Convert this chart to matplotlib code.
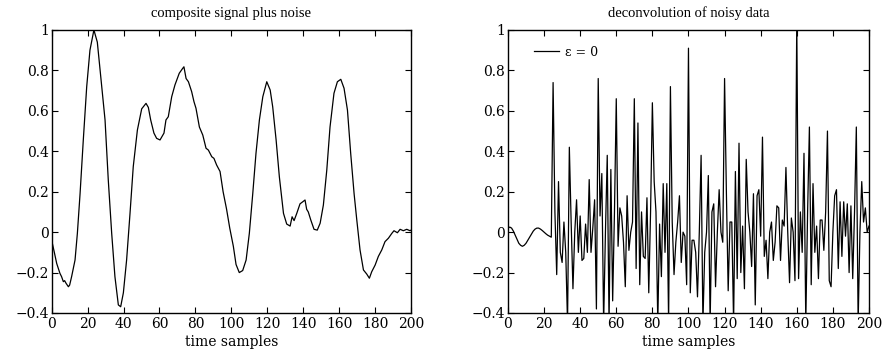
import matplotlib
matplotlib.use("Agg")
import matplotlib.pyplot as plt

plt.rcParams["font.family"] = ["DejaVu Serif"]
plt.rcParams["axes.unicode_minus"] = True

# composite signal plus noise (sample index, value)
sig_t = [0, 1.4, 2.8, 4.6, 5.5, 6.5, 7.2, 8, 9.3, 10, 11.1, 13, 14.3, 15.8, 17.6, 19.5,
         21.3, 23.5, 25.4, 27.3, 29.7, 31.5, 33.4, 35.2, 37.1, 38.4, 39.9, 41.7,
         43.6, 45.4, 47.7, 50.1, 52.5, 53.8, 55.1, 56.9, 58.4, 60.3, 62.5, 63.6,
         64.9, 66.8, 68.6, 71, 72.9, 73.6, 74.8, 76.1, 77.9, 79.2, 80.3, 82.2,
         84.1, 85.9, 87.2, 89.1, 90.3, 91.8, 93.7, 95.4, 97.3, 99.1, 101.1, 102.6,
         104.4, 106.3, 108.2, 110, 111.9, 113.7, 115.6, 117.5, 119.7, 121.6, 123,
         124.9, 126.7, 129, 130.8, 132.7, 133.8, 134.9, 136.4, 138.2, 139.7, 141,
         141.9, 142.8, 144.2, 146, 147.8, 149.4, 151.2, 153.1, 154.9, 157.1, 159,
         160.9, 162.7, 164.6, 166.4, 168.3, 169.8, 171.6, 173.5, 175.3, 176.8,
         178.1, 180, 181.8, 183.7, 185.5, 187.4, 189.3, 190.5, 192.4, 193.9,
         195.7, 197.6, 199.4, 200]
sig_v = [-0.04, -0.097, -0.155, -0.204, -0.22, -0.245, -0.24, -0.253, -0.27, -0.262,
         -0.22, -0.138, -0.006, 0.19, 0.456, 0.72, 0.90, 1.0, 0.94, 0.77, 0.555,
         0.258, -0.006, -0.22, -0.36, -0.369, -0.30, -0.138, 0.093, 0.324, 0.505,
         0.61, 0.637, 0.617, 0.555, 0.49, 0.464, 0.456, 0.49, 0.555, 0.571, 0.67,
         0.728, 0.786, 0.81, 0.818, 0.76, 0.744, 0.695, 0.645, 0.613, 0.52, 0.48,
         0.415, 0.406, 0.373, 0.365, 0.332, 0.30, 0.20, 0.115, 0.02, -0.07, -0.16,
         -0.2, -0.19, -0.138, -0.006, 0.19, 0.39, 0.555, 0.67, 0.744, 0.703, 0.62,
         0.456, 0.274, 0.093, 0.04, 0.03, 0.076, 0.057, 0.093, 0.14, 0.15, 0.159,
         0.113, 0.10, 0.06, 0.014, 0.01, 0.044, 0.134, 0.307, 0.52, 0.687, 0.744,
         0.756, 0.712, 0.604, 0.39, 0.19, 0.06, -0.088, -0.187, -0.207, -0.228,
         -0.196, -0.163, -0.12, -0.088, -0.047, -0.03, -0.006, 0.007, -0.003,
         0.014, 0.007, 0.014, 0.007, 0.01]

# deconvolved output, one value per sample 0..200
deconv = [0.02, 0.025, 0.02, 0.005, -0.015, -0.035, -0.055, -0.065, -0.07, -0.065,
          -0.055, -0.04, -0.025, -0.01, 0.005, 0.015, 0.02, 0.02, 0.015, 0.008,
          0.0, -0.008, -0.015, -0.02, -0.025,
          0.74, 0.1, -0.21, 0.25, -0.1, -0.15, 0.05, -0.1, -0.45, 0.42,
          0.05, -0.28, 0.0, 0.16, -0.1, 0.08, -0.14, -0.13, 0.04, -0.1,
          0.26, -0.1, 0.02, 0.16, -0.38, 0.76, 0.08, 0.29, -0.45, 0.0,
          0.38, -0.45, 0.31, -0.34, 0.1, 0.66, -0.07, 0.12, 0.08, -0.05,
          -0.27, 0.18, -0.09, 0.0, 0.05, 0.66, -0.18, 0.54, -0.26, 0.1,
          -0.12, -0.13, 0.17, -0.3, 0.1, 0.64, 0.25, 0.1, -0.45, 0.04,
          -0.22, 0.24, -0.1, 0.24, -0.45, 0.72, 0.05, -0.21, -0.05, 0.05,
          0.18, -0.15, 0.0, -0.02, -0.26, 0.91, -0.3, -0.04, -0.04, -0.1,
          -0.32, 0.0, 0.38, -0.45, -0.1, 0.0, 0.28, -0.45, 0.1, 0.14,
          -0.27, 0.0, 0.21, 0.0, -0.05, 0.76, 0.2, -0.29, 0.05, 0.05,
          -0.45, 0.3, -0.23, 0.44, -0.2, 0.03, -0.28, 0.36, 0.1, 0.0,
          -0.17, 0.19, -0.36, 0.18, 0.21, -0.02, 0.47, -0.12, -0.04, -0.23,
          0.0, 0.05, -0.14, -0.05, 0.13, 0.12, -0.14, 0.06, 0.03, 0.32,
          0.0, -0.25, 0.07, 0.0, -0.24, 1.05, -0.23, 0.1, -0.1, 0.39,
          -0.45, 0.1, 0.52, -0.26, 0.24, -0.1, 0.03, -0.23, 0.06, 0.06,
          -0.09, 0.1, 0.5, -0.24, -0.27, 0.0, 0.18, 0.21, -0.18, 0.15,
          -0.12, 0.15, -0.02, 0.14, -0.2, 0.13, -0.23, 0.1, 0.52, -0.45,
          0.0, 0.25, 0.05, 0.12, 0.0, 0.03]
deconv_t = list(range(len(deconv)))

xticks = list(range(0, 201, 20))
yticks = [-0.4, -0.2, 0, 0.2, 0.4, 0.6, 0.8, 1]
ylabels = ["\u22120.4", "\u22120.2", "0", "0.2", "0.4", "0.6", "0.8", "1"]

fig = plt.figure(figsize=(8.94, 3.52), dpi=100)
ax1 = fig.add_axes([0.0578, 0.1108, 0.402, 0.804])
ax2 = fig.add_axes([0.5682, 0.1108, 0.4038, 0.804])

ax1.plot(sig_t, sig_v, color="black", lw=0.9)
ax2.plot(deconv_t, deconv, color="black", lw=0.9, label="\u03b5 = 0")

for ax, title in [(ax1, "composite signal plus noise"),
                  (ax2, "deconvolution of noisy data")]:
    ax.set_xlim(0, 200)
    ax.set_ylim(-0.4, 1)
    ax.set_xticks(xticks)
    ax.set_xticklabels([str(x) for x in xticks])
    ax.set_yticks(yticks)
    ax.set_yticklabels(ylabels)
    ax.tick_params(direction="in", top=True, right=True, length=4, width=0.8,
                   labelsize=10, pad=2)
    ax.tick_params(axis="x", pad=3)
    for s in ax.spines.values():
        s.set_linewidth(1.0)
    ax.set_title(title, fontsize=10.5, pad=9,
                 family=["Liberation Serif", "DejaVu Serif"])
    ax.set_xlabel("time samples", fontsize=10, labelpad=3)

ax2.legend(loc="upper left", bbox_to_anchor=(0.058, 0.962), frameon=False,
           fontsize=9, handlelength=2.0, handletextpad=0.5, borderaxespad=0.0)

fig.savefig("out.png", dpi=100)
